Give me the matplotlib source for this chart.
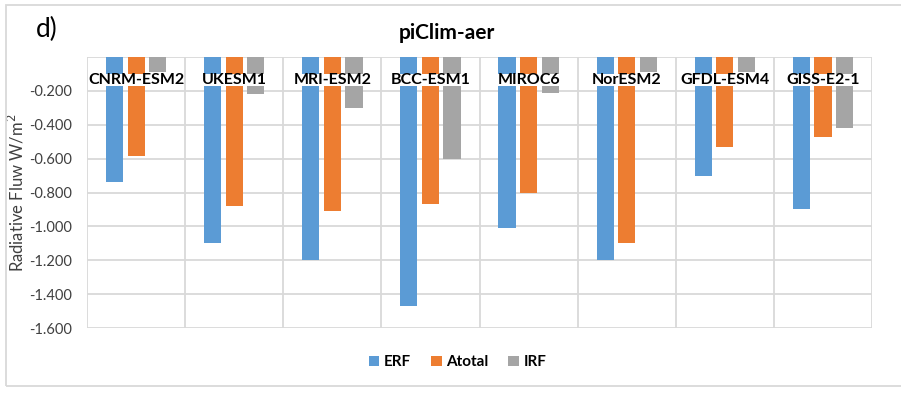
import matplotlib.pyplot as plt
import numpy as np
from matplotlib.patches import Rectangle

plt.rcParams['font.family'] = ['Lato', 'DejaVu Sans']

models = ['CNRM-ESM2', 'UKESM1', 'MRI-ESM2', 'BCC-ESM1', 'MIROC6', 'NorESM2', 'GFDL-ESM4', 'GISS-E2-1']
erf = [-0.74, -1.10, -1.20, -1.47, -1.01, -1.20, -0.70, -0.90]
atotal = [-0.585, -0.88, -0.91, -0.87, -0.80, -1.10, -0.53, -0.47]
irf = [-0.09, -0.22, -0.30, -0.60, -0.21, -0.09, -0.09, -0.42]
yticks = [-0.2, -0.4, -0.6, -0.8, -1.0, -1.2, -1.4, -1.6]

fig = plt.figure(figsize=(9.01, 3.94), dpi=100)
ax = fig.add_axes([0.0966, 0.1675, 0.8712, 0.6878])

x = np.arange(len(models))
w = 0.175
step = 0.22
ax.bar(x - step, erf, w, color='#5B9BD5', label='ERF', zorder=2)
ax.bar(x, atotal, w, color='#ED7D31', label='Atotal', zorder=2)
ax.bar(x + step, irf, w, color='#A5A5A5', label='IRF', zorder=2)

ax.set_xlim(-0.5, len(models) - 0.5)
ax.set_ylim(-1.6, 0)
ax.set_yticks(yticks)
ax.set_yticklabels(['%.3f' % v for v in yticks], fontsize=10.5, color='#404040')
ax.set_xticks([])
for s in ax.spines.values():
    s.set_visible(False)
ax.tick_params(axis='y', length=0, pad=11)

# gridlines
for v in [0] + yticks:
    ax.axhline(v, color='#d9d9d9', lw=1.3, zorder=1)
for b in np.arange(len(models) + 1) - 0.5:
    ax.axvline(b, color='#d9d9d9', lw=1.3, zorder=1)

# category labels with white background, drawn over bars
for i, m in enumerate(models):
    ax.text(i, -0.135, m, ha='center', va='center', fontsize=11.5, fontweight='bold',
            color='black', zorder=5,
            bbox=dict(boxstyle='square,pad=-0.05', fc='white', ec='none'))

ax.set_ylabel('Radiative Fluw W/m$^2$', fontsize=12, color='#404040')
ax.yaxis.set_label_coords(-0.077, 0.5)

fig.text(0.496, 0.915, 'piClim-aer', ha='center', va='center', fontsize=15, fontweight='bold')
fig.text(0.04, 0.925, 'd)', ha='left', va='center', fontsize=19)

leg = fig.legend(loc='center', bbox_to_anchor=(0.508, 0.08), ncol=3, frameon=False,
                 handlelength=0.7, handleheight=0.7, handletextpad=0.3, columnspacing=1.3,
                 prop={'size': 11, 'weight': 'bold'})

# outer chart border
fig.patches.append(Rectangle((6 / 901, 8 / 394), 1.1, 381 / 394, transform=fig.transFigure,
                             fill=False, ec='#d9d9d9', lw=1.3))

fig.savefig('out.png', dpi=100)
